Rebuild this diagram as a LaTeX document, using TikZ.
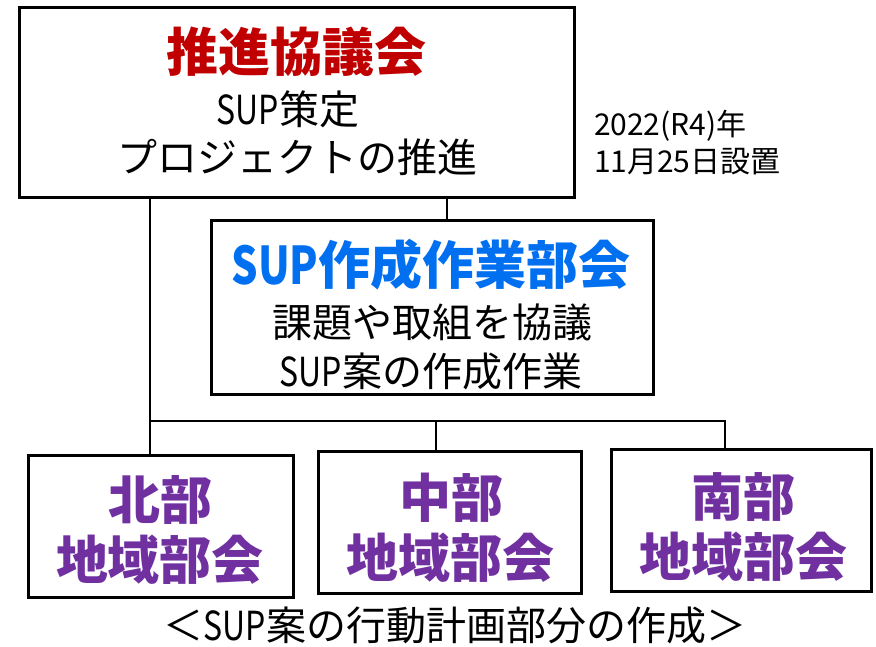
\documentclass[tikz,border=0pt]{standalone}
\usepackage{fontspec}
\setmainfont{Noto Sans CJK JP}
\newfontfamily\narrowlat[FakeStretch=0.8]{Noto Sans CJK JP}
\newcommand{\nl}[1]{{\narrowlat #1}}
\definecolor{tred}{RGB}{192,0,0}
\definecolor{tblue}{RGB}{0,112,240}
\definecolor{tpurple}{RGB}{112,48,160}
\tikzset{
  box/.style={draw=black, line width=3pt, inner sep=0pt, outer sep=0pt, fill=white},
  conn/.style={draw=black, line width=1.8pt},
  txt/.style={inner sep=0pt, outer sep=0pt, anchor=center},
  big/.style={txt, font=\fontsize{52}{56}\selectfont\bfseries},
  mid/.style={txt, font=\fontsize{40}{44}\selectfont},
  small/.style={inner sep=0pt, outer sep=0pt, anchor=west, font=\fontsize{30}{32}\selectfont}
}
\begin{document}
\begin{tikzpicture}[x=1pt,y=-1pt]
\useasboundingbox[fill=white] (0,0) rectangle (876,646);
% boxes
\node[box, minimum width=555pt, minimum height=190pt] (top) at (297,102.5) {};
\node[box, minimum width=442pt, minimum height=174pt] (sup) at (432.5,307.5) {};
\node[box, minimum width=265pt, minimum height=142pt] (hoku) at (161,526.5) {};
\node[box, minimum width=263pt, minimum height=142pt] (chu) at (450,522.5) {};
\node[box, minimum width=260pt, minimum height=142pt] (nan) at (741.5,520.5) {};
% connector coordinates
\coordinate (jL) at (150,421);
\coordinate (jM) at (436,421);
\coordinate (jR) at (725,421);
\coordinate (sx) at (447,0);
\draw[conn] (top.south -| jL) -- (hoku.north -| jL);
\draw[conn] (jL) -- (jR) -- (nan.north -| jR);
\draw[conn] (jM) -- (chu.north -| jM);
\draw[conn] (top.south -| sx) -- (sup.north -| sx);
% texts
\node[big, text=tred] (t1) at (296.5,52) {推進協議会};
\node[mid] (t2) at (288,109) {\nl{SUP}策定};
\node[mid] (t3) at (297,157) {プロジェクトの推進};
\node[small] (d1) at (594,126) {2022(R4)年};
\node[small] (d2) at (594,162) {11月25日設置};
\node[big, text=tblue] (s1) at (431,265) {\nl{SUP}作成作業部会};
\node[mid] (s2) at (432,322) {課題や取組を協議};
\node[mid] (s3) at (431,371) {\nl{SUP}案の作成作業};
\node[big, text=tpurple] (h1) at (160,500) {北部};
\node[big, text=tpurple] (h2) at (160,560) {地域部会};
\node[big, text=tpurple] (c1) at (451,498) {中部};
\node[big, text=tpurple] (c2) at (450,558) {地域部会};
\node[big, text=tpurple] (n1) at (743,497) {南部};
\node[big, text=tpurple] (n2) at (743,557) {地域部会};
\node[mid] (b1) at (455,625) {＜\nl{SUP}案の行動計画部分の作成＞};
\end{tikzpicture}
\end{document}
